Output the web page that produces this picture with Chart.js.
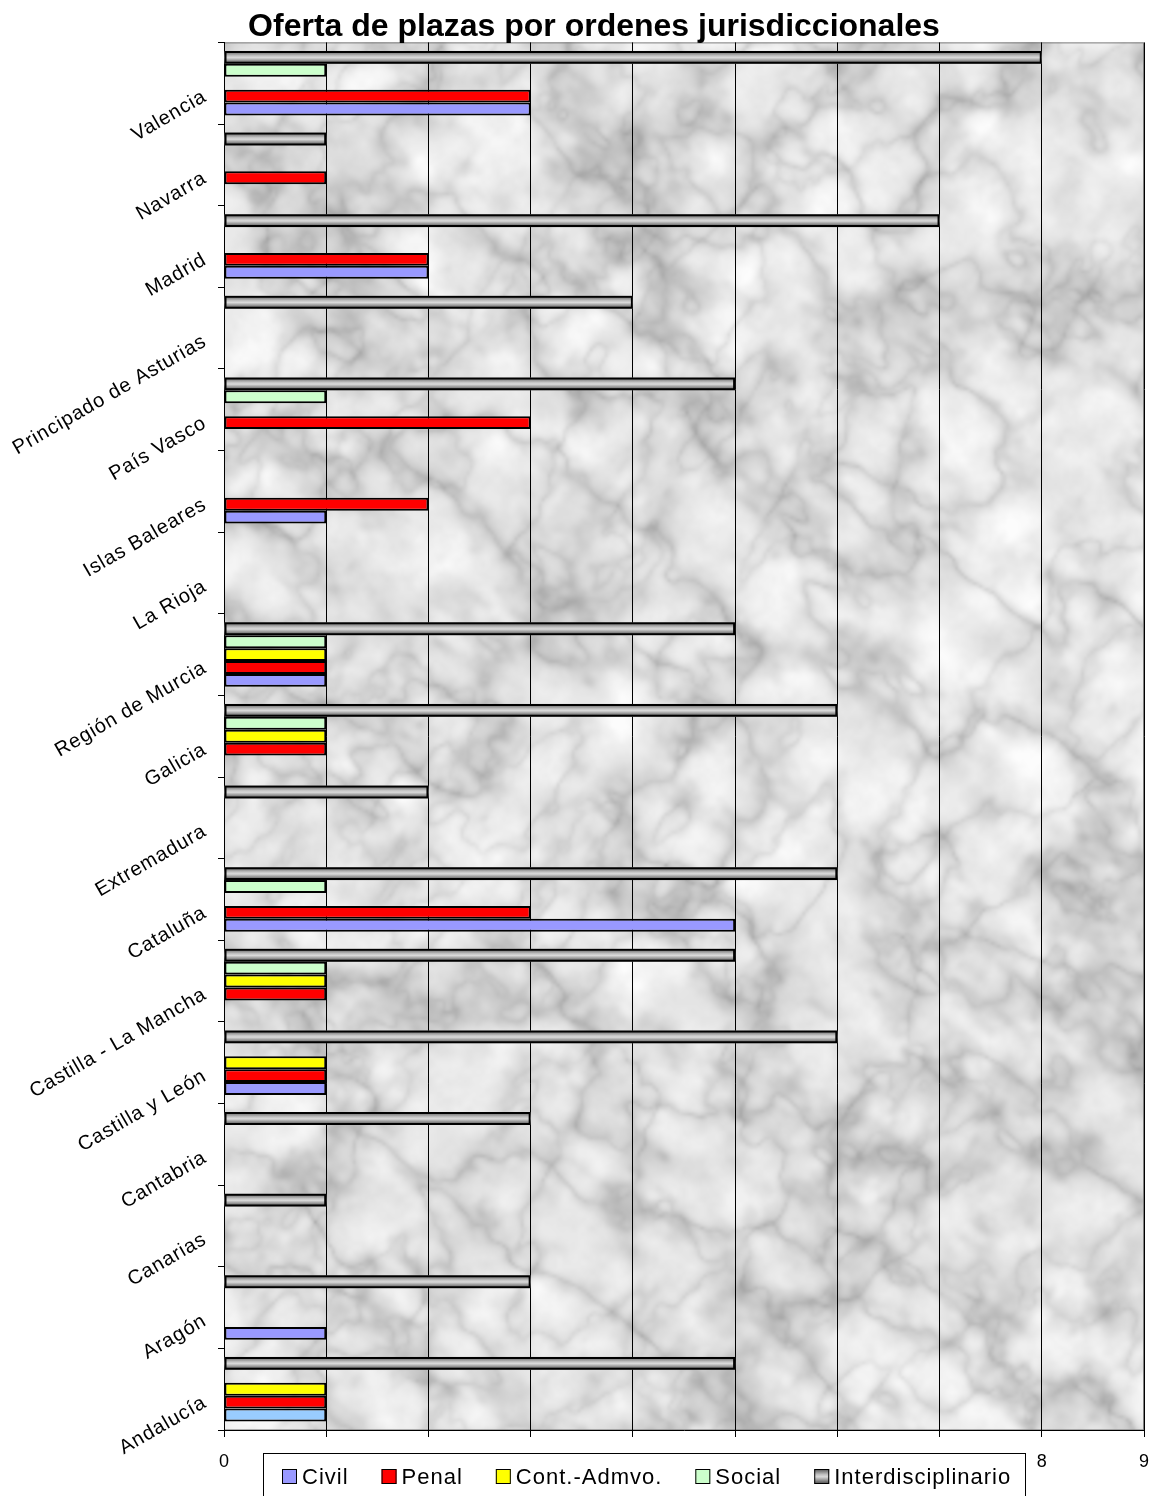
<!DOCTYPE html>
<html><head><meta charset="utf-8">
<script src="https://cdn.jsdelivr.net/npm/chart.js@4.4.0/dist/chart.umd.min.js"></script>
<style>html,body{margin:0;padding:0;background:#fff;}#wrap{width:1151px;height:1496px;position:relative;}</style>
</head><body><div id="wrap"><canvas id="c" width="1151" height="1496"></canvas></div>
<script>
// ---- data ----
const categories = ['Valencia','Navarra','Madrid','Principado de Asturias','País Vasco','Islas Baleares','La Rioja','Región de Murcia','Galicia','Extremadura','Cataluña','Castilla - La Mancha','Castilla y León','Cantabria','Canarias','Aragón','Andalucía'];
const seriesNames = ['Civil','Penal','Cont.-Admvo.','Social','Interdisciplinario'];
const civil  = [3,null,2,null,null,1,null,1,null,null,5,null,1,null,null,1,1];
const penal  = [3,1,2,null,3,2,null,1,1,null,3,1,1,null,null,null,1];
const contAdmvo = [null,null,null,null,null,null,null,1,1,null,null,1,1,null,null,null,1];
const social = [1,null,null,null,1,null,null,1,1,null,1,1,null,null,null,null,null];
const interdisciplinario = [8,1,7,4,5,null,null,5,6,2,6,5,6,3,1,3,5];
const xTicks = [0,1,2,3,4,5,6,7,8,9];
const titleText = 'Oferta de plazas por ordenes jurisdiccionales';

const FONT = '"Liberation Sans", Arial, sans-serif';
const civilColors = categories.map(c => c === 'Andalucía' ? '#99CCFF' : '#9999FF');

function grayGradient(ctx, top, bottom){
  const g = ctx.createLinearGradient(0, top, 0, bottom);
  g.addColorStop(0, '#505050');
  g.addColorStop(0.18, '#8a8a8a');
  g.addColorStop(0.38, '#c4c4c4');
  g.addColorStop(0.52, '#dadada');
  g.addColorStop(0.68, '#a8a8a8');
  g.addColorStop(0.86, '#707070');
  g.addColorStop(1, '#4a4a4a');
  return g;
}

// ---- marble background texture (deterministic procedural noise) ----
let textureCanvas = null;
function makeTexture(w, h){
  const s = 3, W = Math.ceil(w/s), H = Math.ceil(h/s);
  const cv = document.createElement('canvas'); cv.width = W; cv.height = H;
  const cx = cv.getContext('2d'); const img = cx.createImageData(W, H);
  const hash = (i,j) => { let n = (Math.imul(i,374761393) + Math.imul(j,668265263))|0; n = Math.imul(n ^ (n>>>13), 1274126177); n ^= n>>>16; return (n>>>0)/4294967296; };
  const noise = (x,y) => { const xi=Math.floor(x), yi=Math.floor(y); const xf=x-xi, yf=y-yi; const u=xf*xf*(3-2*xf), v=yf*yf*(3-2*yf);
    const a=hash(xi,yi), b=hash(xi+1,yi), c=hash(xi,yi+1), d=hash(xi+1,yi+1); return a+(b-a)*u+(c-a)*v+(a-b-c+d)*u*v; };
  const fbm = (x,y,o) => { let t=0, amp=0.5, f=1, norm=0; for(let k=0;k<o;k++){ t+=amp*noise(x*f,y*f); norm+=amp; f*=2.03; amp*=0.5; } return t/norm; };
  for(let y=0;y<H;y++){
    for(let x=0;x<W;x++){
      const px = x*s, py = y*s;
      const u = (px*0.8 + py*0.6), v = (-px*0.6 + py*0.8);
      const base = fbm(px/40, py/40, 4);
      const r1 = fbm(u/120+3.1, v/80+7.7, 4);
      const r2 = fbm(u/70+11.3, v/100+2.9, 4);
      const vein1 = Math.pow(1-Math.abs(2*r1-1), 7);
      const vein2 = Math.pow(1-Math.abs(2*r2-1), 8);
      let c = 239 + (base-0.5)*45 - vein1*38 - vein2*26;
      c = Math.max(160, Math.min(252, c));
      const idx = (y*W+x)*4;
      img.data[idx]=c; img.data[idx+1]=c; img.data[idx+2]=c; img.data[idx+3]=255;
    }
  }
  cx.putImageData(img,0,0);
  return cv;
}

const backgroundPlugin = {
  id: 'marble',
  beforeDraw(chart){
    const {ctx, chartArea:a} = chart;
    const w = Math.round(a.right-a.left), h = Math.round(a.bottom-a.top);
    if(!textureCanvas) textureCanvas = makeTexture(w, h);
    ctx.save();
    ctx.imageSmoothingEnabled = true;
    ctx.imageSmoothingQuality = 'high';
    ctx.drawImage(textureCanvas, a.left, a.top, w, h);
    ctx.strokeStyle = '#808080'; ctx.lineWidth = 1;
    ctx.strokeRect(a.left+0.5, a.top+0.5, w-1, h-1);
    ctx.restore();
  }
};

const gradientBarsPlugin = {
  id: 'gradBars',
  beforeDatasetDraw(chart, args){
    const ds = chart.data.datasets[args.index];
    if(!ds.gradientFill) return;
    const ctx = chart.ctx;
    ctx.save();
    args.meta.data.forEach((bar, i) => {
      if(ds.data[i] == null) return;
      const p = bar.getProps(['x','y','base','height'], true);
      const top = p.y - p.height/2, bottom = p.y + p.height/2;
      ctx.fillStyle = grayGradient(ctx, top, bottom);
      ctx.fillRect(Math.min(p.base,p.x), top, Math.abs(p.x-p.base), p.height);
    });
    ctx.restore();
  }
};

const labelsAndLegendPlugin = {
  id: 'labelsLegend',
  afterDraw(chart){
    const ctx = chart.ctx; const ys = chart.scales.y;
    ctx.save();
    // rotated category labels
    ctx.font = '20px ' + FONT; ctx.fillStyle = '#000';
    ctx.textAlign = 'right'; ctx.textBaseline = 'middle';
    try{ ctx.letterSpacing = '0.9px'; }catch(e){}
    chart.data.labels.forEach((lab, i) => {
      const y = ys.getPixelForValue(i);
      ctx.save(); ctx.translate(205, y + 12); ctx.rotate(-Math.PI/6); ctx.fillText(lab, 0, 0); ctx.restore();
    });
    // legend box
    const bx = 263, by = 1453, bw = 762, bh = 60;
    ctx.fillStyle = '#fff'; ctx.fillRect(bx, by, bw, bh);
    ctx.strokeStyle = '#000'; ctx.lineWidth = 1; ctx.strokeRect(bx+0.5, by+0.5, bw, bh);
    ctx.font = '22px ' + FONT; ctx.textAlign = 'left'; ctx.textBaseline = 'middle';
    try{ ctx.letterSpacing = '1px'; }catch(e){}
    let x = 282; const cy = 1477;
    const items = chart.data.datasets.slice().reverse();
    items.forEach(ds => {
      const sq = 15, sy = cy - 8;
      if(ds.gradientFill) ctx.fillStyle = grayGradient(ctx, sy, sy+sq);
      else ctx.fillStyle = ds.legendColor;
      ctx.fillRect(x, sy, sq, sq);
      ctx.strokeStyle = '#000'; ctx.lineWidth = 1; ctx.strokeRect(x+0.5, sy+0.5, sq-1, sq-1);
      ctx.fillStyle = '#000';
      ctx.fillText(ds.label, x + sq + 5, cy + 1);
      x += sq + 5 + ctx.measureText(ds.label).width + 33;
    });
    ctx.restore();
  }
};

const barCommon = { borderColor:'#000', borderWidth:2, borderSkipped:false, categoryPercentage:0.79, barPercentage:1.0 };

new Chart(document.getElementById('c'), {
  type: 'bar',
  data: {
    labels: categories,
    datasets: [
      Object.assign({ label: seriesNames[4], data: interdisciplinario, backgroundColor: 'rgba(0,0,0,0)', gradientFill: true }, barCommon),
      Object.assign({ label: seriesNames[3], data: social, backgroundColor: '#CCFFCC', legendColor: '#CCFFCC' }, barCommon),
      Object.assign({ label: seriesNames[2], data: contAdmvo, backgroundColor: '#FFFF00', legendColor: '#FFFF00' }, barCommon),
      Object.assign({ label: seriesNames[1], data: penal, backgroundColor: '#FF0000', legendColor: '#FF0000' }, barCommon),
      Object.assign({ label: seriesNames[0], data: civil, backgroundColor: civilColors, legendColor: '#9999FF' }, barCommon)
    ]
  },
  options: {
    indexAxis: 'y',
    responsive: false,
    animation: false,
    devicePixelRatio: 1,
    layout: { padding: { left: 44, right: 7, top: 0, bottom: 0 } },
    plugins: {
      legend: { display: false },
      tooltip: { enabled: false },
      title: { display: true, text: titleText, color: '#000', font: { family: FONT, size: 32, weight: 'bold', lineHeight: 0.95 }, padding: { top: 12, bottom: 0 } }
    },
    scales: {
      x: {
        type: 'linear', min: 0, max: 9,
        afterBuildTicks(scale){ scale.ticks = xTicks.map(v => ({ value: v })); },
        afterFit(scale){ scale.height = 66; scale.paddingLeft = 0; scale.paddingRight = 0; },
        ticks: { color: '#000', font: { family: FONT, size: 18 }, padding: 14, maxRotation: 0 },
        grid: { color: '#000', lineWidth: 1, tickLength: 7, drawTicks: true, drawOnChartArea: true },
        border: { color: '#000', width: 1 }
      },
      y: {
        type: 'category',
        afterFit(scale){ scale.width = 180; scale.paddingTop = 0; scale.paddingBottom = 0; },
        ticks: { display: false },
        grid: { drawOnChartArea: false, drawTicks: true, tickLength: 6, color: '#000', offset: true },
        border: { color: '#000', width: 1 }
      }
    }
  },
  plugins: [backgroundPlugin, gradientBarsPlugin, labelsAndLegendPlugin]
});
</script>
</body></html>
